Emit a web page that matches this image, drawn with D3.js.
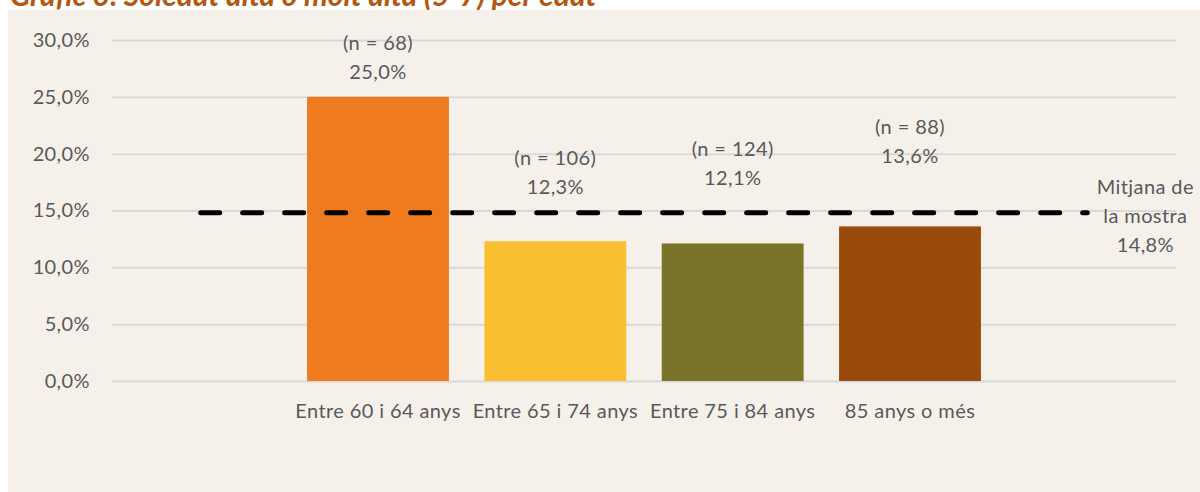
<!DOCTYPE html>
<html>
<head>
<meta charset="utf-8">
<script src="https://cdn.jsdelivr.net/npm/d3@7"></script>
<style>
  html, body { margin: 0; padding: 0; background: #ffffff; }
  svg { display: block; }
</style>
</head>
<body>
<svg id="chart" width="1200" height="492"></svg>
<script>
// Age groups (outer empty slots give room for the mean line to extend)
const categories = ["", "Entre 60 i 64 anys", "Entre 65 i 74 anys", "Entre 75 i 84 anys", "85 anys o més", ""];
const shares = [null, 25.0, 12.3, 12.1, 13.6, null];
const sampleSizes = [null, 68, 106, 124, 88, null];
const sampleMean = [14.8, 14.8, 14.8, 14.8, 14.8, 14.8];
const yTicks = [0, 5, 10, 15, 20, 25, 30];
const barColors = [null, "#F07A1E", "#F9BF31", "#7A7428", "#9A4A0B", null];
// how far each two-line label sits above its bar top (px)
const labelLift = [0, 25, 54, 65, 70, 0];

const svg = d3.select("#chart");
const W = 1200, H = 492;
const plot = { left: 112, right: 1176, top: 40, bottom: 381 };
const textColor = "#595959";
const font = "Lato, 'Open Sans', sans-serif";
const fs = 20, ls = "0.4px";

const fmt = v => d3.format(".1f")(v).replace(".", ",") + "%";

svg.append("rect").attr("x", 0).attr("y", 0).attr("width", W).attr("height", H).attr("fill", "#ffffff");

// Title (runs off the top edge)
svg.append("text")
  .attr("x", 10).attr("y", 6)
  .attr("font-family", font).attr("font-size", 30).attr("font-weight", 700).attr("font-style", "italic")
  .attr("fill", "#B4580F")
  .text("Gràfic 3. Soledat alta o molt alta (5-7) per edat");

svg.append("rect").attr("x", 8).attr("y", 10).attr("width", W - 8).attr("height", H - 10).attr("fill", "#F5F1EA");

const x = d3.scaleBand().domain(d3.range(categories.length))
  .range([plot.left, plot.right]).paddingInner(0.2).paddingOuter(0.1);
const y = d3.scaleLinear().domain([0, 30]).range([plot.bottom, plot.top]);

// Gridlines + y labels
const yAxis = d3.axisLeft(y).tickValues(yTicks).tickFormat(fmt)
  .tickSize(-(plot.right - plot.left)).tickPadding(22);
const gy = svg.append("g").attr("transform", `translate(${plot.left},0)`).call(yAxis);
gy.select(".domain").remove();
gy.selectAll(".tick line").attr("stroke", "#D9D9D9").attr("stroke-width", 2);
gy.selectAll(".tick text").attr("fill", textColor).attr("font-family", font)
  .attr("font-size", fs).attr("letter-spacing", ls);

// Bars
const idx = d3.range(categories.length).filter(i => shares[i] != null);
svg.append("g").selectAll("rect").data(idx).join("rect")
  .attr("x", i => x(i))
  .attr("width", x.bandwidth())
  .attr("y", i => y(shares[i]))
  .attr("height", i => y(0) - y(shares[i]))
  .attr("fill", i => barColors[i]);

// Category labels
const xAxis = d3.axisBottom(x).tickFormat(i => categories[i]).tickSize(0).tickPadding(23);
const gx = svg.append("g").attr("transform", `translate(0,${plot.bottom})`).call(xAxis);
gx.select(".domain").remove();
gx.selectAll(".tick text").attr("fill", textColor).attr("font-family", font)
  .attr("font-size", fs).attr("letter-spacing", ls);

// Sample mean line
const line = d3.line().x((d, i) => x(i) + x.bandwidth() / 2).y(d => y(d));
svg.append("path").datum(sampleMean)
  .attr("d", line)
  .attr("fill", "none").attr("stroke", "#000").attr("stroke-width", 5)
  .attr("stroke-linecap", "round").attr("stroke-dasharray", "19 23");

// Bar labels
const lbl = svg.append("g").attr("font-family", font).attr("font-size", fs).attr("letter-spacing", ls)
  .attr("fill", textColor).attr("text-anchor", "middle");
idx.forEach(i => {
  const cx = x(i) + x.bandwidth() / 2;
  const vy = y(shares[i]) - labelLift[i];
  lbl.append("text").attr("x", cx).attr("y", vy - 29).attr("dy", "0.35em").text(`(n = ${sampleSizes[i]})`);
  lbl.append("text").attr("x", cx).attr("y", vy).attr("dy", "0.35em").text(fmt(shares[i]));
});

// Mean label at the end of the line
const last = sampleMean.length - 1;
const mx = x(last) + x.bandwidth() / 2 + 58;
const my = y(sampleMean[last]);
["Mitjana de", "la mostra", fmt(sampleMean[last])].forEach((t, k) => {
  lbl.append("text").attr("x", mx).attr("y", my - 26 + k * 29).attr("dy", "0.35em").text(t);
});
</script>
</body>
</html>
